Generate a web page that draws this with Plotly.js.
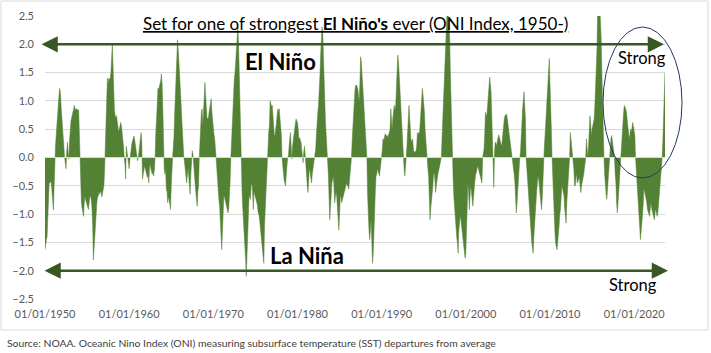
<!DOCTYPE html>
<html>
<head>
<meta charset="utf-8">
<script src="https://cdn.plot.ly/plotly-3.0.1.min.js"></script>
<style>html,body{margin:0;padding:0;background:#fff;}#chart{width:711px;height:353px;}</style>
</head>
<body>
<div id="chart"></div>
<script>
// Monthly ONI values (Jan 1950 .. Sep 2023)
const oni1950s = [
 -1.63,-1.5,-1.45,-1.4,-1.0,-0.6,-0.45,-0.45,-0.42,-0.45,-0.6,-0.8,
 -0.93,-0.5,0.0,0.2,0.39,0.6,0.8,1.04,1.1,1.22,1.15,0.9,
 0.68,0.55,0.42,0.2,0.0,-0.1,-0.2,0.1,0.27,0.1,-0.03,0.3,
 0.6,0.65,0.7,0.75,0.8,0.9,0.92,0.85,0.85,0.86,0.84,0.85,
 0.83,0.4,-0.3,-0.77,-0.8,-0.9,-0.95,-1.04,-0.8,-0.68,-0.75,-0.8,
 -0.85,-0.9,-0.92,-0.8,-0.68,-0.7,-0.75,-0.9,-1.2,-1.81,-1.6,-1.3,
 -1.0,-0.9,-0.8,-0.7,-0.68,-0.6,-0.65,-0.6,-0.62,-0.7,-0.65,-0.55,
 -0.5,-0.2,0.2,0.8,1.36,1.4,1.3,1.4,1.38,1.4,1.5,1.7,
 2.02,1.6,1.0,0.85,0.74,0.7,0.74,0.6,0.5,0.45,0.5,0.6,
 0.62,0.55,0.45,0.38,0.2,0.0,-0.1,-0.38,0.2,0.1,-0.05,-0.2
];
const oni1960s = [
 -0.2,-0.05,0.1,0.2,0.25,0.3,0.35,0.38,0.3,0.2,0.2,0.05,
 -0.06,0.0,0.1,0.2,0.3,0.44,0.3,-0.38,-0.3,-0.2,-0.15,-0.2,
 -0.25,-0.3,-0.35,-0.3,-0.45,-0.2,-0.1,-0.2,-0.25,-0.3,-0.25,-0.33,
 -0.2,0.0,0.42,0.6,0.9,1.22,1.2,1.25,1.3,1.35,1.48,1.3,
 0.86,0.0,-0.2,-0.3,-0.2,-0.56,-0.6,-0.8,-0.7,-0.75,-0.85,-0.92,
 -0.5,-0.1,0.0,0.2,0.39,0.8,1.2,1.45,1.7,2.08,1.9,1.7,
 1.57,1.3,0.98,0.7,0.42,0.15,0.0,-0.09,-0.2,-0.3,-0.45,-0.3,
 -0.2,-0.35,-0.5,-0.65,-0.3,0.0,0.12,0.05,-0.2,-0.3,-0.45,-0.6,
 -0.7,-0.86,-0.6,-0.5,0.0,0.3,0.68,0.8,0.86,0.56,0.8,1.0,
 1.33,1.1,0.8,0.7,0.68,0.7,0.8,0.9,0.95,1.04,0.8,0.6
];
const oni1970s = [
 0.44,0.4,0.33,0.2,0.0,-0.2,-0.45,-0.6,-0.75,-0.86,-1.1,-1.3,
 -1.63,-1.3,-0.9,-0.68,-0.7,-0.75,-0.8,-0.85,-0.9,-0.98,-0.9,-0.7,
 -0.4,0.0,0.3,0.56,0.9,1.2,1.4,1.51,1.7,1.9,2.1,2.31,
 2.0,1.45,0.5,0.0,-0.33,-0.6,-0.9,-1.1,-1.28,-1.5,-1.8,-2.1,
 -1.7,-1.16,-0.9,-0.68,-0.7,-0.74,-0.5,-0.45,-0.6,-0.92,-0.6,-0.65,
 -0.68,-0.7,-0.8,-0.85,-0.98,-1.0,-1.1,-1.22,-1.3,-1.4,-1.6,-1.7,
 -1.87,-1.2,-0.9,-0.68,-0.3,0.0,0.3,0.45,0.56,1.0,0.95,0.9,
 0.92,0.7,0.5,0.39,0.4,0.47,0.6,0.75,0.86,0.8,0.86,0.7,
 0.6,0.4,0.0,-0.2,-0.33,-0.4,-0.45,-0.5,-0.3,-0.03,0.0,0.03,
 0.27,0.35,0.44,0.2,-0.03,0.2,0.35,0.44,0.5,0.6,0.68,0.65
];
const oni1980s = [
 0.62,0.5,0.33,0.35,0.3,0.27,0.15,0.0,-0.09,0.1,0.2,0.05,
 -0.2,-0.33,-0.5,-0.62,-0.4,-0.2,-0.25,-0.35,-0.45,-0.3,-0.2,-0.1,
 0.0,0.1,0.15,0.4,0.68,0.8,0.92,1.1,1.45,1.8,2.1,2.31,
 2.2,1.69,1.3,0.98,0.6,0.39,0.2,0.0,-0.3,-0.68,-1.1,-0.9,
 -0.6,-0.45,-0.4,-0.33,-0.5,-0.8,-0.7,-0.6,-0.7,-0.9,-1.1,-1.28,
 -1.0,-0.68,-0.7,-0.8,-0.75,-0.65,-0.6,-0.56,-0.5,-0.45,-0.45,-0.5,
 -0.5,-0.56,-0.45,-0.3,-0.15,0.0,0.3,0.6,0.9,1.1,1.2,1.28,
 1.28,1.25,1.22,1.1,1.0,1.3,1.78,1.7,1.5,1.28,1.1,0.9,
 0.68,0.4,0.15,0.0,-0.68,-1.1,-1.3,-1.45,-1.2,-1.1,-1.5,-1.87,
 -1.7,-1.2,-0.92,-0.6,-0.33,-0.3,-0.2,-0.25,-0.3,-0.33,-0.2,-0.1
];
const oni1990s = [
 0.0,0.15,0.33,0.3,0.35,0.42,0.4,0.38,0.39,0.35,0.4,0.45,
 0.5,0.86,0.6,0.5,0.7,0.8,0.92,0.85,0.9,1.2,1.5,1.81,
 1.7,1.45,1.2,0.9,0.68,0.4,0.1,0.0,-0.2,-0.33,-0.2,0.0,
 0.2,0.39,0.6,0.92,0.7,0.4,0.27,0.3,0.33,0.2,0.09,0.1,
 0.1,0.12,0.2,0.44,0.4,0.44,0.44,0.6,0.86,1.0,1.22,1.1,
 1.0,0.8,0.5,0.27,0.1,0.0,-0.2,-0.33,-0.6,-1.1,-0.9,-0.8,
 -0.7,-0.5,-0.3,-0.27,-0.4,-0.62,-0.5,-0.33,-0.3,-0.25,-0.2,-0.15,
 -0.1,0.0,0.3,0.6,0.86,1.3,1.57,2.0,2.34,2.5,2.55,2.5,
 2.3,2.1,1.5,0.86,0.4,0.0,-0.4,-0.7,-0.92,-1.1,-1.28,-1.4,
 -1.5,-1.69,-1.3,-1.1,-1.04,-1.1,-1.22,-1.3,-1.4,-1.51,-1.6,-1.78
];
const oni2000s = [
 -1.7,-1.2,-0.8,-0.45,-0.6,-0.92,-0.7,-0.5,-0.6,-0.75,-0.86,-0.7,
 -0.45,-0.4,-0.3,-0.27,-0.2,-0.15,-0.2,-0.25,-0.3,-0.39,-0.4,-0.45,
 0.0,0.1,0.15,0.4,0.8,0.75,0.74,0.9,1.1,1.28,1.42,1.3,
 1.16,0.74,0.3,0.0,-0.53,0.1,0.27,0.25,0.2,0.3,0.39,0.4,
 0.35,0.3,0.25,0.2,0.3,0.5,0.62,0.7,0.74,0.75,0.77,0.7,
 0.6,0.5,0.45,0.39,0.3,0.2,0.09,0.0,-0.2,-0.3,-0.45,-0.7,
 -0.98,-0.8,-0.56,-0.4,-0.15,0.0,0.1,0.27,0.6,0.86,1.0,1.16,
 0.9,0.68,0.0,-0.2,-0.45,-0.6,-0.8,-0.9,-1.1,-1.28,-1.5,-1.6,
 -1.69,-1.4,-1.16,-1.0,-0.8,-0.6,-0.45,-0.33,-0.4,-0.56,-0.7,-0.8,
 -0.92,-0.7,-0.3,0.0,0.2,0.39,0.6,0.86,1.1,1.45,1.6,1.75
];
const oni2010s = [
 1.3,0.98,0.5,0.0,-0.4,-0.8,-1.04,-1.3,-1.51,-1.6,-1.63,-1.5,
 -1.4,-1.2,-1.0,-0.92,-0.7,-0.5,-0.55,-0.6,-0.68,-0.9,-1.05,-1.16,
 -0.8,-0.6,-0.33,-0.2,0.0,0.44,0.3,0.2,0.1,0.0,-0.2,-0.5,
 -0.5,-0.35,-0.3,-0.45,-0.4,-0.4,-0.35,-0.5,-0.62,-0.5,-0.45,-0.35,
 -0.3,-0.2,-0.1,0.0,0.33,0.15,0.0,0.2,0.5,0.74,0.6,0.39,
 0.5,0.56,0.6,0.68,0.9,1.2,1.45,1.9,2.6,2.8,2.9,2.7,
 2.4,2.1,1.5,0.86,0.3,0.0,-0.3,-0.56,-0.65,-0.74,-0.6,-0.4,
 -0.2,0.0,0.2,0.33,0.39,0.3,0.2,0.1,0.0,-0.3,-0.45,-0.8,
 -0.98,-0.8,-0.6,-0.4,-0.2,0.0,0.2,0.39,0.6,0.8,0.92,0.9,
 0.86,0.8,0.62,0.55,0.45,0.33,0.4,0.5,0.45,0.55,0.62,0.55
];
const oni2020s = [
 0.45,0.39,0.0,-0.2,-0.33,-0.5,-0.7,-0.92,-1.1,-1.45,-1.3,-1.2,
 -1.0,-0.8,-0.56,-0.6,-0.65,-0.75,-0.8,-0.92,-0.95,-1.0,-1.04,-0.9,
 -0.8,-0.9,-0.98,-1.0,-1.05,-1.1,-0.95,-0.92,-1.0,-1.04,-0.95,-0.8,
 -0.7,-0.5,-0.33,-0.1,0.0,0.3,0.68,1.1,1.51
];
const startYear = 1950;
const yTickFormat = '.1f';
const xTickFormat = '%d/%m/%Y';

const values = [].concat(oni1950s, oni1960s, oni1970s, oni1980s, oni1990s, oni2000s, oni2010s, oni2020s);
const dates = values.map((v, i) => {
  const y = startYear + Math.floor(i / 12);
  const m = (i % 12) + 1;
  return y + '-' + (m < 10 ? '0' + m : m) + '-01';
});

const green = '#548235';
const arrowGreen = '#385723';
const font = 'Lato, "Open Sans", sans-serif';

const trace = {
  type: 'scatter', mode: 'lines', x: dates, y: values,
  fill: 'tozeroy', fillcolor: green,
  line: {color: green, width: 0.5},
  hoverinfo: 'skip'
};

const L = 45, R = 46, T = 16, B = 54;
const PW = 711 - L - R, PH = 353 - T - B;
const px = x => (x - L) / PW;
const py = y => (353 - B - y) / PH;

const layout = {
  width: 711, height: 353,
  margin: {l: L, r: R, t: T, b: B, pad: 0},
  paper_bgcolor: '#fff', plot_bgcolor: '#fff',
  showlegend: false,
  xaxis: {
    type: 'date', range: [dates[0], dates[dates.length - 1]],
    tick0: dates[0], dtick: 'M120', tickformat: xTickFormat,
    showgrid: false, zeroline: false, showline: false, ticks: '',
    ticklabelstandoff: 7,
    tickfont: {family: font, size: 11, color: '#595959'}
  },
  yaxis: {
    range: [-2.5, 2.5], tick0: 0, dtick: 0.5, tickformat: yTickFormat,
    showgrid: true, gridcolor: '#d9d9d9', gridwidth: 1,
    zeroline: false, showline: false, ticks: '',
    ticklabelstandoff: 10,
    tickfont: {family: font, size: 11, color: '#595959'}
  },
  shapes: [
    {type: 'line', xref: 'paper', yref: 'y', x0: 0, x1: 1, y0: 0, y1: 0,
     line: {color: '#d9d9d9', width: 1}, layer: 'above'},
    {type: 'circle', xref: 'paper', yref: 'paper',
     x0: px(603), x1: px(682), y0: py(178), y1: py(27),
     line: {color: '#203864', width: 1}, layer: 'above'},
    {type: 'rect', xref: 'paper', yref: 'paper',
     x0: px(1), x1: px(708), y0: py(330), y1: py(1),
     line: {color: '#d9d9d9', width: 1}, layer: 'below'}
  ],
  annotations: [
    {xref: 'paper', yref: 'y', x: px(664), y: 2.0, ax: 40 - 664, ay: 0,
     text: '', showarrow: true, arrowside: 'end+start', arrowhead: 2,
     arrowsize: 1.3, arrowwidth: 2.5, arrowcolor: arrowGreen, standoff: 0, startstandoff: 0},
    {xref: 'paper', yref: 'y', x: px(668), y: -2.0, ax: 43 - 668, ay: 0,
     text: '', showarrow: true, arrowside: 'end+start', arrowhead: 2,
     arrowsize: 1.3, arrowwidth: 2.5, arrowcolor: arrowGreen, standoff: 0, startstandoff: 0},
    {xref: 'paper', yref: 'paper', x: px(355), y: py(24), xanchor: 'center', yanchor: 'middle',
     showarrow: false,
     text: "<u>Set for one of strongest <b>El Niño's</b> ever (ONI Index, 1950-)</u>",
     font: {family: font, size: 17, color: '#000'}},
    {xref: 'paper', yref: 'paper', x: px(280.5), y: py(61.7), xanchor: 'center', yanchor: 'middle',
     showarrow: false, text: '<b>El Niño</b>', font: {family: font, size: 22, color: '#000'}},
    {xref: 'paper', yref: 'paper', x: px(307), y: py(255), xanchor: 'center', yanchor: 'middle',
     showarrow: false, text: '<b>La Niña</b>', font: {family: font, size: 22, color: '#000'}},
    {xref: 'paper', yref: 'paper', x: px(642), y: py(58), xanchor: 'center', yanchor: 'middle',
     showarrow: false, text: 'Strong', font: {family: font, size: 16.5, color: '#000'}},
    {xref: 'paper', yref: 'paper', x: px(633), y: py(285), xanchor: 'center', yanchor: 'middle',
     showarrow: false, text: 'Strong', font: {family: font, size: 16.5, color: '#000'}},
    {xref: 'paper', yref: 'paper', x: px(5), y: py(343), xanchor: 'left', yanchor: 'middle',
     showarrow: false,
     text: 'Source: NOAA. Oceanic Nino Index (ONI) measuring subsurface temperature (SST) departures from average',
     font: {family: font, size: 10.4, color: '#404040'}}
  ]
};

Plotly.newPlot('chart', [trace], layout, {displayModeBar: false, staticPlot: true});
</script>
</body>
</html>
